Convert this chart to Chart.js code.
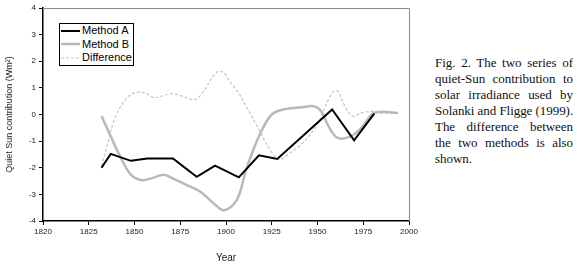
<!DOCTYPE html>
<html>
<head>
<meta charset="utf-8">
<script src="https://cdn.jsdelivr.net/npm/chart.js@4"></script>
<style>
  body { margin: 0; background: #fff; width: 577px; height: 264px; overflow: hidden; position: relative; }
  #wrap { position: absolute; left: 0; top: 0; width: 430px; height: 264px; }
  #legend { position: absolute; left: 59px; top: 23px; width: 73px; border: 1px solid #000; background: #fff;
    font: 11px "Liberation Sans", Arial, sans-serif; color: #000; padding: 0; }
  #legend .item { height: 13.6px; line-height: 13.6px; white-space: nowrap; display: flex; align-items: center; }
  #legend svg { margin-left: 1px; margin-right: 2px; }
  #caption { position: absolute; left: 435px; top: 55px; width: 138px;
    font: 13px "Liberation Serif", "Times New Roman", serif; color: #111; line-height: 16px; letter-spacing: -0.05px; }
  #caption div { white-space: nowrap; text-align: justify; text-align-last: justify; }
  #caption div.last { text-align-last: left; }
</style>
</head>
<body>
<div id="wrap"><canvas id="quietSunChart"></canvas></div>
<div id="legend"></div>
<div id="caption">
  <div>Fig. 2. The two series of</div>
  <div>quiet-Sun contribution to</div>
  <div>solar irradiance used by</div>
  <div>Solanki and Fligge (1999).</div>
  <div>The difference between</div>
  <div>the two methods is also</div>
  <div class="last">shown.</div>
</div>
<script>
// Quiet Sun contribution chart
const xTickLabels = ['1820', '1825', '1850', '1875', '1900', '1925', '1950', '1975', '2000'];

const methodAYears = [1832, 1837, 1848, 1857, 1871, 1884, 1894, 1907, 1918, 1928, 1958, 1970, 1981];
const methodAValues = [-2.0, -1.48, -1.74, -1.65, -1.65, -2.34, -1.92, -2.36, -1.53, -1.67, 0.19, -0.97, 0.03];

const methodBYears = [1832, 1837, 1843, 1848, 1854, 1860, 1866, 1872, 1878, 1886, 1893, 1899, 1906, 1911, 1918, 1925, 1933, 1941, 1948, 1952, 1956, 1961, 1968, 1974, 1981, 1994];
const methodBValues = [-0.06, -0.82, -1.69, -2.26, -2.47, -2.38, -2.26, -2.44, -2.63, -2.9, -3.32, -3.6, -3.2, -2.07, -0.82, 0.0, 0.21, 0.27, 0.31, 0.12, -0.44, -0.88, -0.82, -0.5, 0.06, 0.06];

const diffYears = [1832, 1835, 1839, 1845, 1850, 1856, 1861, 1870, 1876, 1883, 1888, 1892, 1896, 1899, 1902, 1907, 1912, 1917, 1924, 1929, 1935, 1941, 1946, 1950, 1954, 1958, 1961, 1964, 1969, 1974, 1980, 1982, 1993];
const diffValues = [-1.94, -1.19, -0.19, 0.56, 0.81, 0.81, 0.63, 0.78, 0.69, 0.56, 0.88, 1.35, 1.63, 1.55, 1.25, 0.8, 0.19, -0.44, -1.32, -1.69, -1.44, -1.13, -0.75, -0.38, 0.25, 0.81, 0.88, 0.44, -0.06, 0.06, 0.12, 0.06, 0.06];

const toPoints = (xs, ys) => xs.map((x, i) => ({ x: x, y: ys[i] }));

// gray frame on top and right of the plot
const frame = {
  id: 'frame',
  afterDraw(chart) {
    const { ctx, chartArea } = chart;
    ctx.save();
    ctx.strokeStyle = '#8a8a8a';
    ctx.lineWidth = 1;
    ctx.beginPath();
    ctx.moveTo(chartArea.left, chartArea.top + 0.5);
    ctx.lineTo(chartArea.right + 0.5, chartArea.top + 0.5);
    ctx.lineTo(chartArea.right + 0.5, chartArea.bottom);
    ctx.stroke();
    ctx.restore();
  }
};

const qsCtx = document.getElementById('quietSunChart');
const qsChart = new Chart(qsCtx, {
  type: 'line',
  data: {
    datasets: [{
      label: 'Method A',
      data: toPoints(methodAYears, methodAValues),
      borderColor: '#000000',
      borderWidth: 2,
      tension: 0,
      pointRadius: 0,
    }, {
      label: 'Method B',
      data: toPoints(methodBYears, methodBValues),
      borderColor: '#b9b9b9',
      borderWidth: 2.5,
      tension: 0.35,
      pointRadius: 0,
    }, {
      label: 'Difference',
      data: toPoints(diffYears, diffValues),
      borderColor: '#c4c4c4',
      borderWidth: 1.2,
      borderDash: [3, 2],
      tension: 0.35,
      pointRadius: 0,
    }]
  },
  options: {
    responsive: true,
    maintainAspectRatio: false,
    animation: false,
    layout: {
      padding: { top: 8, right: 21, left: 0, bottom: 0 },
    },
    plugins: {
      legend: { display: false },
      tooltip: { enabled: false },
    },
    scales: {
      x: {
        type: 'linear',
        min: 1800,
        max: 2000,
        afterFit: (scale) => { scale.height = 43; },
        ticks: {
          stepSize: 25,
          maxRotation: 0,
          color: '#222',
          padding: 2,
          font: { family: 'Liberation Sans', size: 8 },
          callback: (value, index) => xTickLabels[index],
        },
        grid: { drawOnChartArea: false, color: '#000', tickLength: 4 },
        border: { color: '#000', width: 1.5 },
        title: {
          display: true,
          text: 'Year',
          color: '#222',
          font: { family: 'Liberation Sans', size: 10 },
          padding: { top: 0, bottom: 0 },
        },
      },
      y: {
        min: -4,
        max: 4,
        afterFit: (scale) => { scale.width = 43; },
        ticks: {
          stepSize: 1,
          color: '#222',
          padding: 3,
          font: { family: 'Liberation Sans', size: 8 },
        },
        grid: { drawOnChartArea: false, color: '#000', tickLength: 4 },
        border: { color: '#000', width: 1.5 },
        title: {
          display: true,
          text: 'Quiet Sun contribution (Wm²)',
          color: '#222',
          font: { family: 'Liberation Sans', size: 9 },
          padding: { top: 4, bottom: 0 },
        },
      },
    },
  },
  plugins: [frame],
});

// legend box built from the datasets
const legendEl = document.getElementById('legend');
qsChart.data.datasets.forEach((ds) => {
  const item = document.createElement('div');
  item.className = 'item';
  const dash = ds.borderDash ? ds.borderDash.join(',') : 'none';
  item.innerHTML = '<svg width="19" height="6"><line x1="0" y1="3" x2="19" y2="3" stroke="' + ds.borderColor +
    '" stroke-width="' + ds.borderWidth + '" stroke-dasharray="' + dash + '"/></svg><span>' + ds.label + '</span>';
  legendEl.appendChild(item);
});
</script>
</body>
</html>
